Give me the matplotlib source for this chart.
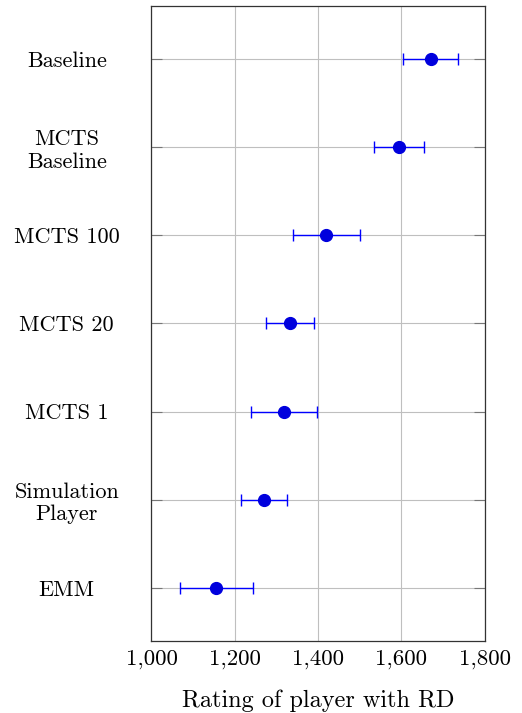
import matplotlib
matplotlib.use("Agg")
import matplotlib.pyplot as plt
from matplotlib.ticker import FuncFormatter

plt.rcParams['font.family'] = ['cmr10', 'DejaVu Serif']
plt.rcParams['axes.formatter.use_mathtext'] = True

players = ["Baseline", "MCTS\nBaseline", "MCTS 100", "MCTS 20", "MCTS 1",
           "Simulation\nPlayer", "EMM"]
ratings = [1670, 1595, 1420, 1333, 1319, 1270, 1156]
rd = [66, 60, 81, 57, 79, 55, 88]
xticks = [1000, 1200, 1400, 1600, 1800]

fig = plt.figure(figsize=(5.22, 7.13), dpi=100)
ax = fig.add_axes([0.2902, 0.101, 0.6384, 0.8906])

ypos = list(range(len(players)))
ax.errorbar(ratings, ypos, xerr=rd, fmt='o', color='#0000dd', ecolor='blue',
            elinewidth=1.0, capsize=4, capthick=1.0, markersize=8.5, zorder=3)

ax.set_xlim(1000, 1800)
ax.set_ylim(len(players) - 0.4, -0.6)
ax.set_xticks(xticks)
ax.xaxis.set_major_formatter(FuncFormatter(lambda v, p: f"{int(v):,}"))
ax.set_yticks(ypos)
ax.set_yticklabels(players, ha='center', multialignment='center', fontsize=16,
                   linespacing=1.2)
ax.grid(True, color='#bfbfbf', linewidth=0.8)
ax.set_axisbelow(True)
ax.tick_params(axis='y', direction='in', length=8, width=0.8, color='#777777',
               left=True, right=True, pad=61)
ax.tick_params(axis='x', direction='in', length=0, labelsize=16.5, pad=6)
for s in ax.spines.values():
    s.set_color('#333333')
    s.set_linewidth(0.9)
ax.set_xlabel("Rating of player with RD", fontsize=17.5, labelpad=15)

fig.savefig("out.png", dpi=100)
